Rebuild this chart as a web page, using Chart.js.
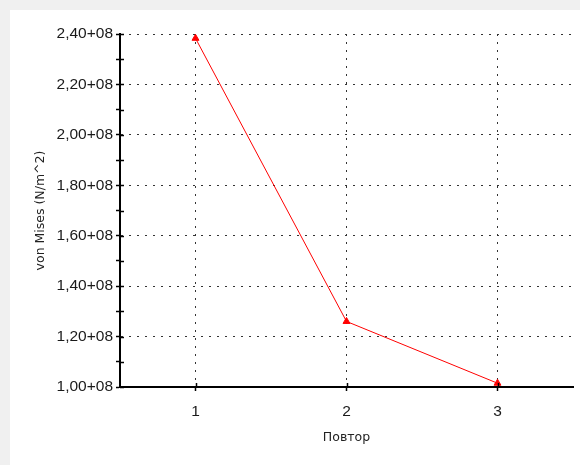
<!DOCTYPE html>
<html>
<head>
<meta charset="utf-8">
<script src="https://cdn.jsdelivr.net/npm/chart.js@4"></script>
<style>
  html, body { margin: 0; padding: 0; background: #f0f0f0; }
  #panel { position: absolute; left: 10px; top: 10px; width: 570px; height: 455px; background: #ffffff; }
  canvas { display: block; }
</style>
</head>
<body>
<div id="panel"><canvas id="chart" width="570" height="455"></canvas></div>
<script>
// Iterations and the von Mises stress found at each one
const categories = ['1', '2', '3'];
const vonMises = [2.383e8, 1.26e8, 1.015e8];

// Value axis: ticks every 0.1e8, labelled every 0.2e8
const yTicks = [1.0e8, 1.2e8, 1.4e8, 1.6e8, 1.8e8, 2.0e8, 2.2e8, 2.4e8];
const yTickLabels = ['1,00+08', '1,20+08', '1,40+08', '1,60+08', '1,80+08', '2,00+08', '2,20+08', '2,40+08'];
const yMin = 1.0e8, yMax = 2.4e8, yStep = 0.1e8;

const xTitle = 'Повтор';
const yTitle = 'von Mises (N/m^2)';

const tickFont = '"Liberation Sans", Arial, sans-serif';
const titleFont = '"DejaVu Sans", sans-serif';

function labelIndex(v) {
  return yTicks.findIndex(t => Math.abs(t - v) < 1e3);
}

// Tick marks that cross the axis line: Chart.js draws the outer half,
// this plugin adds the inner half at the same scale positions.
const innerTicks = {
  id: 'innerTicks',
  afterDatasetsDraw(chart) {
    const { ctx, chartArea, scales } = chart;
    const len = 4;
    ctx.save();
    ctx.strokeStyle = '#000';
    ctx.lineWidth = 1.5;
    ctx.beginPath();
    scales.y.ticks.forEach(t => {
      const py = Math.round(scales.y.getPixelForValue(t.value)) + 0.5;
      ctx.moveTo(chartArea.left, py);
      ctx.lineTo(chartArea.left + len, py);
    });
    categories.forEach((c, i) => {
      const px = Math.round(scales.x.getPixelForValue(i)) + 0.5;
      ctx.moveTo(px, chartArea.bottom);
      ctx.lineTo(px, chartArea.bottom - len);
    });
    ctx.stroke();
    ctx.restore();
  }
};

new Chart(document.getElementById('chart'), {
  type: 'line',
  data: {
    labels: categories,
    datasets: [{
      data: vonMises,
      borderColor: '#ff0000',
      backgroundColor: '#ff0000',
      borderWidth: 1,
      pointStyle: 'triangle',
      pointRadius: 4,
      pointHoverRadius: 4,
      tension: 0
    }]
  },
  options: {
    responsive: false,
    animation: false,
    events: [],
    layout: { padding: { top: 24, right: 7, left: 0, bottom: 0 } },
    plugins: {
      legend: { display: false },
      tooltip: { enabled: false }
    },
    scales: {
      x: {
        type: 'category',
        offset: true,
        afterFit(scale) { scale.height = 78; },
        grid: {
          offset: false,
          color: '#333',
          lineWidth: 1,
          drawTicks: true,
          tickLength: 4,
          tickColor: '#000',
          tickWidth: 1.5
        },
        border: { display: true, color: '#000', width: 2, dash: [2, 6] },
        ticks: {
          color: '#1a1a1a',
          padding: 11,
          font: { family: tickFont, size: 15.5 }
        },
        title: {
          display: true,
          text: xTitle,
          color: '#222',
          padding: { top: 0, bottom: 20 },
          font: { family: titleFont, size: 12.5 }
        }
      },
      y: {
        min: yMin,
        max: yMax,
        afterFit(scale) { scale.width = 110; },
        grid: {
          color: ctx => (labelIndex(ctx.tick.value) > 0 ? '#333' : 'rgba(0,0,0,0)'),
          lineWidth: 1,
          drawTicks: true,
          tickLength: 4,
          tickColor: '#000',
          tickWidth: 1.5
        },
        border: { display: true, color: '#000', width: 2, dash: [2, 6] },
        ticks: {
          stepSize: yStep,
          autoSkip: false,
          color: '#1a1a1a',
          padding: 3,
          font: { family: tickFont, size: 15.5 },
          callback(value) {
            const i = labelIndex(value);
            return i >= 0 ? yTickLabels[i] : '';
          }
        },
        title: {
          display: true,
          text: yTitle,
          color: '#222',
          padding: { top: 23, bottom: 0 },
          font: { family: titleFont, size: 12.5 }
        }
      }
    }
  },
  plugins: [innerTicks]
});
</script>
</body>
</html>
